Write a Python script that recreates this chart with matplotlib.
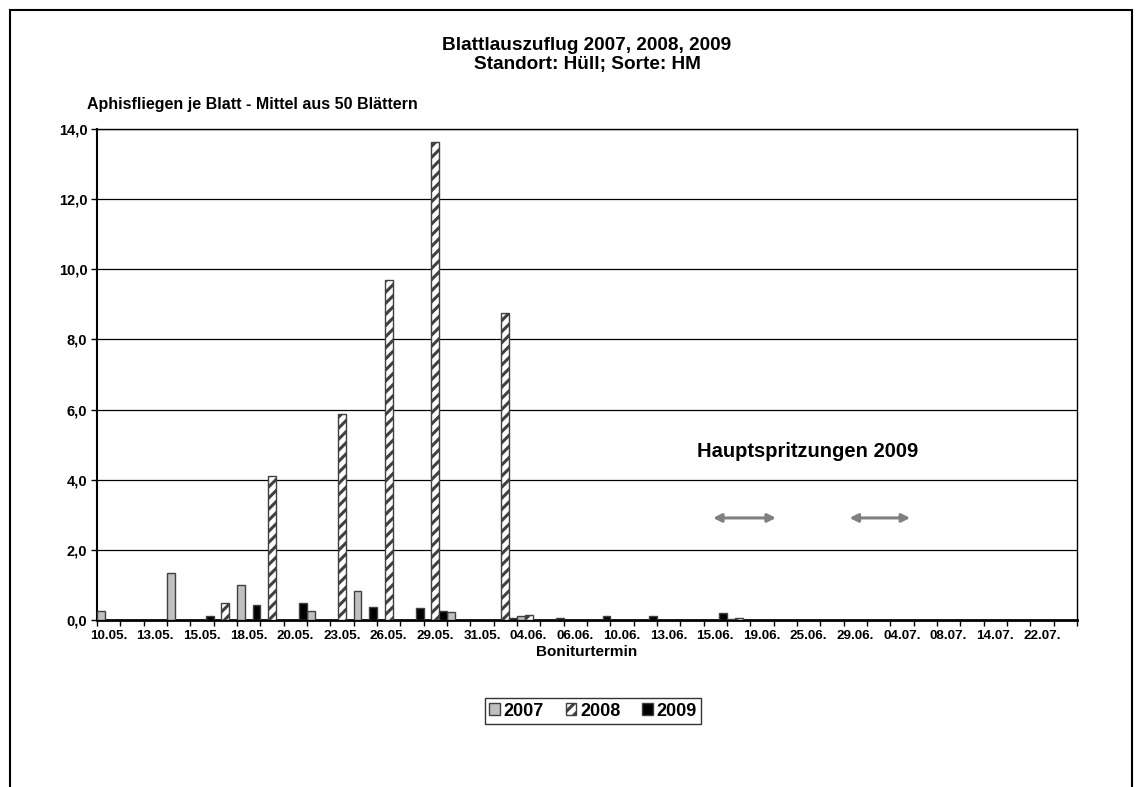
import matplotlib
matplotlib.use("Agg")
import matplotlib.pyplot as plt
import numpy as np
from matplotlib.patches import Rectangle

plt.rcParams['font.family'] = ['Liberation Sans', 'DejaVu Sans']
plt.rcParams['font.weight'] = 'bold'
plt.rcParams['axes.labelweight'] = 'bold'
plt.rcParams['hatch.linewidth'] = 2.2

# Boniturtermine (jeder zweite wird beschriftet)
termine = ['10.05.', '11.05.', '13.05.', '14.05.', '15.05.', '16.05.', '18.05.', '19.05.',
           '20.05.', '21.05.', '23.05.', '24.05.', '26.05.', '27.05.', '29.05.', '30.05.',
           '31.05.', '02.06.', '04.06.', '05.06.', '06.06.', '08.06.', '10.06.', '11.06.',
           '13.06.', '14.06.', '15.06.', '17.06.', '19.06.', '22.06.', '25.06.', '27.06.',
           '29.06.', '01.07.', '04.07.', '06.07.', '08.07.', '11.07.', '14.07.', '17.07.',
           '22.07.', '25.07.']

w2007 = [0.25, 0, 0, 1.33, 0, 0, 1.0, 0, 0, 0.27, 0, 0.84, 0, 0, 0, 0.22, 0, 0, 0.1, 0,
         0, 0, 0, 0, 0, 0, 0, 0.02, 0, 0, 0, 0, 0, 0, 0, 0, 0, 0, 0, 0, 0, 0]
w2008 = [0, 0, 0, 0, 0, 0.49, 0, 4.12, 0, 0, 5.87, 0, 9.69, 0, 13.62, 0, 0, 8.75, 0.15, 0,
         0, 0, 0, 0, 0, 0, 0, 0.06, 0, 0, 0, 0, 0, 0, 0, 0, 0, 0, 0, 0, 0, 0]
w2009 = [0, 0, 0, 0, 0.11, 0, 0.44, 0, 0.49, 0, 0, 0.37, 0, 0.33, 0.25, 0, 0, 0.05, 0, 0.05,
         0, 0.12, 0, 0.12, 0, 0, 0.19, 0, 0, 0, 0, 0, 0, 0, 0, 0, 0, 0, 0, 0, 0, 0]

# Hauptspritzungen 2009 (Pfeile, in Kategorie-Einheiten)
spritz = [(25.9, 28.6), (31.75, 34.35)]

fig = plt.figure(figsize=(11.42, 7.87), dpi=100)
ax = fig.add_axes([97/1142, 1-620/787, 980/1142, 491/787])

x = np.arange(len(termine))
bw = 1/3
ax.bar(x - bw, w2007, bw, color='#c0c0c0', edgecolor='#404040', lw=1, label='2007', zorder=3)
ax.bar(x, w2008, bw, color='white', edgecolor='#404040', hatch='///', lw=1, label='2008', zorder=3)
ax.bar(x + bw, w2009, bw, color='black', edgecolor='#404040', lw=1, label='2009', zorder=3)

ax.set_xlim(-0.5, len(termine) - 0.5)
ax.set_ylim(0, 14)
ax.set_yticks(np.arange(0, 14.1, 2))
ax.set_yticklabels([f'{v:.1f}'.replace('.', ',') for v in np.arange(0, 14.1, 2)], fontsize=10.5)
ax.yaxis.grid(True, color='black', lw=0.9, zorder=0)
ax.set_xticks(x[::2])
ax.set_xticklabels(termine[::2], fontsize=9.7)
ax.set_xticks(np.arange(-0.5, len(termine)), minor=True)
ax.tick_params(axis='x', which='major', length=0, pad=7)
ax.tick_params(axis='x', which='minor', length=4, width=1)
ax.tick_params(axis='y', length=4, width=1, pad=3)
for s in ax.spines.values():
    s.set_color('black')
    s.set_linewidth(1)
ax.spines['bottom'].set_linewidth(2)
ax.spines['left'].set_linewidth(1.5)

ax.set_xlabel('Boniturtermin', fontsize=11, labelpad=2)

for a, b in spritz:
    ax.annotate('', xy=(a, 2.91), xytext=(b, 2.91),
                arrowprops=dict(arrowstyle='<|-|>', color='#808080', lw=2.2,
                                mutation_scale=12, shrinkA=0, shrinkB=0))
ax.text(29.95, 4.8, 'Hauptspritzungen 2009', ha='center', va='center', fontsize=14.5)

fig.text(587/1142, 1-46/787, 'Blattlauszuflug 2007, 2008, 2009', ha='center', va='center', fontsize=13.7)
fig.text(587/1142, 1-65/787, 'Standort: Hüll; Sorte: HM', ha='center', va='center', fontsize=13.7)
fig.text(87/1142, 1-104/787, 'Aphisfliegen je Blatt - Mittel aus 50 Blättern', ha='left', va='center', fontsize=11.5)

leg = fig.legend(loc='center', bbox_to_anchor=(593/1142, 1-711/787), ncol=3, fontsize=13,
                 frameon=True, fancybox=False, handlelength=0.6, handleheight=0.6,
                 handletextpad=0.2, columnspacing=1.2, borderpad=0.25)
leg.get_frame().set_edgecolor('black')
leg.get_frame().set_linewidth(1)

fig.patches.append(Rectangle((10/1142, -0.05), 1122/1142, 1.05 - 10/787, transform=fig.transFigure,
                             fill=False, edgecolor='black', lw=1.5))

fig.savefig('out.png', dpi=100)
